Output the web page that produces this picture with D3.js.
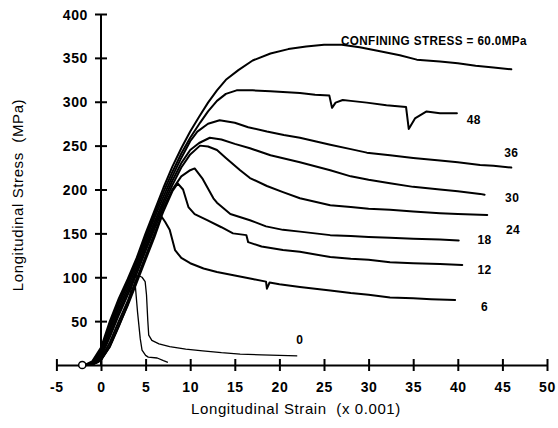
<!DOCTYPE html>
<html>
<head>
<meta charset="utf-8">
<script src="https://cdn.jsdelivr.net/npm/d3@7"></script>
<style>
  html, body { margin: 0; padding: 0; background: #fff; }
  svg { display: block; }
  text { font-family: "Liberation Sans", Arial, Helvetica, sans-serif; fill: #000; }
</style>
</head>
<body>
<svg id="chart" width="558" height="428"></svg>
<script>
// ---- Data (strain x 0.001, stress MPa) ----
const xTicks = [-5, 0, 5, 10, 15, 20, 25, 30, 35, 40, 45, 50];
const yTicks = [50, 100, 150, 200, 250, 300, 350, 400];

const curve60 = [[-1.8,0],[-1,4],[0,20],[1,50],[2,76],[3,98],[4,122],[5,150],[6,176],[7,202],[8,226],[9,247],[10,266],[11,283],[12,299],[13,313],[14,325],[15.4,336],[17,347],[19,355],[21,360],[23,363],[25,365],[27,365],[29,362],[31,358],[33.5,353],[35.4,348],[38,346],[40,344],[42,341],[44,339],[46,337]];
const curve48 = [[-1.7,0],[-1,3],[0,17],[1,46],[2,72],[3,95],[4,119],[5,146],[6,172],[7,197],[8,220],[9,241],[10,259],[11.1,276],[12,289],[13,301],[14,309],[15.2,313],[17,313],[19,312],[20.4,311],[22.3,310],[24,308],[25.6,307],[25.9,293],[26.3,299],[27.1,302],[28,301],[29.8,299],[32,296],[34.2,294],[34.5,269],[35.2,281],[36.5,289],[38,287],[39.9,287]];
const curve36 = [[-1.6,0],[-0.9,3],[0,15],[1,43],[2,69],[3,92],[4,116],[5,142],[6,168],[7,192],[8,215],[9,236],[10,255],[10.8,266],[12,275],[13.3,279],[15,276],[16.5,271],[18.6,266],[20.5,262],[22.3,259],[24,255],[25.7,251],[28,246],[29.8,242],[32.4,239],[35,236],[38,233],[40,231],[42.5,228],[44,227],[46,225]];
const curve30 = [[-1.5,0],[-0.8,3],[0,13],[1,40],[2,65],[3,88],[4,112],[5,138],[6,163],[7,187],[8,210],[9,230],[10,245],[11,253],[12.2,259],[13.5,257],[15,252],[16.7,247],[19,239],[22.3,231],[25.7,222],[28,215],[30,211],[32.4,207],[35,203],[38,200],[40,198],[42.5,195],[43,194]];
const curve24 = [[-1.4,0],[-0.7,3],[0,11],[1,36],[2,61],[3,84],[4,108],[5,134],[6,159],[7,183],[8,205],[9,225],[10,240],[11.1,250],[12,249],[13,245],[14,236],[15.6,222],[16.7,213],[18.6,204],[20.4,197],[22.3,190],[25.7,182],[28,180],[30,178],[32.4,177],[35,175],[38,173],[40,172],[43.3,171]];
const curve18 = [[-1.3,0],[-0.6,3],[0,9],[1,32],[2,57],[3,80],[4,104],[5,130],[6,155],[7,179],[8,200],[9,215],[10,222],[10.5,224],[11.4,212],[12.6,190],[13,185],[14.5,172],[16.7,165],[18.5,158],[20.4,154],[22.3,152],[25.7,148],[28,147],[30,146],[32.4,145],[35,144],[38,143],[40.1,142]];
const curve12 = [[-1.2,0],[-0.5,3],[0,7],[1,26],[2,50],[3,73],[4,98],[5,124],[6,150],[7,175],[8,198],[8.6,207],[9.2,200],[9.8,180],[10.5,172],[11.9,165],[13.5,157],[14.8,150],[16.3,148],[16.5,140],[18,135],[20.4,131],[22.3,129],[25.7,123],[28,121],[30,120],[32.4,117],[35,116],[38,115],[40.5,114]];
const curve6 = [[-1.1,0],[-0.4,3],[0,6],[1,22],[2,45],[3,68],[4,94],[5,120],[6,146],[6.8,169],[7.2,163],[7.7,154],[8.3,131],[9,122],[10,116],[11.5,110],[13,106],[15,102],[17,98],[18.5,95],[18.6,87],[18.9,94],[20,92],[22.3,89],[25.7,85],[28,82],[30,80],[32.4,77],[35,76],[37,75],[39.7,74]];
const curve0a = [[-1,0],[0,5],[1,20],[2,43],[3,68],[3.8,95],[4.2,102],[4.6,100],[4.95,95],[5.1,80],[5.25,50],[5.35,34],[5.7,28],[6.5,24],[7.7,21],[9.5,18],[11.4,16],[13.5,14],[15.6,12.5],[18,11.5],[20,11],[22,10.5]];
const curve0b = [[-1,0],[0,5],[1,21],[2,45],[3,70],[3.6,96],[3.9,104],[4.05,100],[3.85,90],[4.1,60],[4.4,30],[4.6,17],[5.0,11],[5.3,9],[6.3,8],[7.0,5],[7.5,3]];

const thickCurves = [curve60, curve48, curve36, curve30, curve24, curve18, curve12, curve6];
const thinCurves = [curve0a, curve0b];

const curveLabels = [
  { text: "CONFINING STRESS = 60.0MPa", strain: 26.9, stress: 364.7 },
  { text: "48", strain: 41.0, stress: 275 },
  { text: "36", strain: 45.2, stress: 237 },
  { text: "30", strain: 45.3, stress: 186 },
  { text: "24", strain: 45.4, stress: 149 },
  { text: "18", strain: 42.2, stress: 138 },
  { text: "12", strain: 42.2, stress: 104 },
  { text: "6",  strain: 42.6, stress: 61.5 },
  { text: "0",  strain: 21.9, stress: 24 }
];

const originMarker = [[-2.1, 0]];

// ---- Drawing ----
const svg = d3.select("#chart");
const x = d3.scaleLinear().domain([-5, 50]).range([56.4, 547]);
const y = d3.scaleLinear().domain([0, 400]).range([365, 14]);

const line = d3.line().x(d => x(d[0])).y(d => y(d[1]));

// curves
svg.append("g").selectAll("path.thick").data(thickCurves).join("path")
  .attr("class", "thick")
  .attr("d", line)
  .attr("fill", "none").attr("stroke", "#000")
  .attr("stroke-width", 2).attr("stroke-linejoin", "round").attr("stroke-linecap", "round");

svg.append("g").selectAll("path.thin").data(thinCurves).join("path")
  .attr("class", "thin")
  .attr("d", line)
  .attr("fill", "none").attr("stroke", "#000")
  .attr("stroke-width", 1.3).attr("stroke-linejoin", "round");

const fmt = d => String(d);

// x axis
const xAxis = d3.axisBottom(x).tickValues(xTicks).tickSize(0).tickSizeOuter(0).tickFormat(fmt);
const gx = svg.append("g").attr("transform", `translate(0,${y(0)})`).call(xAxis);
gx.attr("font-family", null);
gx.select(".domain").attr("stroke", "#000").attr("stroke-width", 2);
gx.selectAll(".tick line").attr("y1", -6).attr("y2", 6).attr("stroke", "#000").attr("stroke-width", 2);
gx.selectAll(".tick text")
  .attr("y", 27).attr("dy", 0)
  .style("font-size", "14px").style("font-weight", "bold").style("letter-spacing", "0.6px");

// y axis
const yAxis = d3.axisLeft(y).tickValues(yTicks).tickSize(0).tickSizeOuter(0).tickFormat(fmt);
const gy = svg.append("g").attr("transform", `translate(${x(0)},0)`).call(yAxis);
gy.attr("font-family", null);
gy.select(".domain").attr("stroke", "#000").attr("stroke-width", 2)
  .attr("d", `M0,${y(0)}V${y(400)}`);
gy.selectAll(".tick line").attr("x1", -6).attr("x2", 6).attr("stroke", "#000").attr("stroke-width", 2);
gy.selectAll(".tick text")
  .attr("x", -13).attr("dy", "0.36em")
  .style("font-size", "14px").style("font-weight", "bold").style("letter-spacing", "0.6px");

// origin marker
svg.append("g").selectAll("circle").data(originMarker).join("circle")
  .attr("cx", d => x(d[0])).attr("cy", d => y(d[1])).attr("r", 3.6)
  .attr("fill", "#fff").attr("stroke", "#000").attr("stroke-width", 1.5);

// curve labels
svg.append("g").selectAll("text").data(curveLabels).join("text")
  .attr("x", d => x(d.strain)).attr("y", d => y(d.stress))
  .style("font-size", "12px").style("font-weight", "bold").style("letter-spacing", "0.4px")
  .each(function(d) {
    if (d.text.length > 5) d3.select(this).attr("textLength", 186).attr("lengthAdjust", "spacingAndGlyphs");
  })
  .text(d => d.text);

// axis titles
svg.append("text")
  .attr("x", 296).attr("y", 414).attr("text-anchor", "middle")
  .style("font-size", "15px").style("letter-spacing", "0.6px").style("white-space", "pre")
  .text("Longitudinal Strain  (x 0.001)");

svg.append("text")
  .attr("transform", "translate(23,195) rotate(-90)").attr("text-anchor", "middle")
  .style("font-size", "15px").style("letter-spacing", "0.6px").style("white-space", "pre")
  .text("Longitudinal Stress  (MPa)");
</script>
</body>
</html>
